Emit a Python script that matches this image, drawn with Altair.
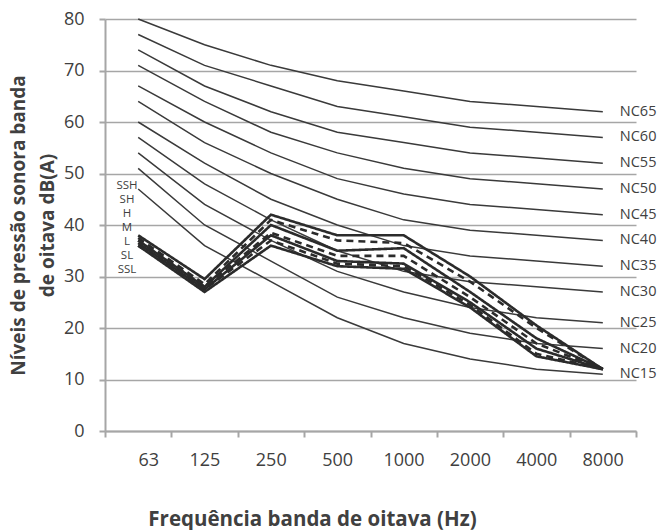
import altair as alt
import pandas as pd
import json

# ---- data ----
freqs = ["63", "125", "250", "500", "1000", "2000", "4000", "8000"]

nc_names = ["NC15", "NC20", "NC25", "NC30", "NC35", "NC40", "NC45", "NC50", "NC55", "NC60", "NC65"]
nc15 = [47, 36, 29, 22, 17, 14, 12, 11]
nc20 = [51, 40, 33, 26, 22, 19, 17, 16]
nc25 = [54, 44, 37, 31, 27, 24, 22, 21]
nc30 = [57, 48, 41, 35, 31, 29, 28, 27]
nc35 = [60, 52, 45, 40, 36, 34, 33, 32]
nc40 = [64, 56, 50, 45, 41, 39, 38, 37]
nc45 = [67, 60, 54, 49, 46, 44, 43, 42]
nc50 = [71, 64, 58, 54, 51, 49, 48, 47]
nc55 = [74, 67, 62, 58, 56, 54, 53, 52]
nc60 = [77, 71, 67, 63, 61, 59, 58, 57]
nc65 = [80, 75, 71, 68, 66, 64, 63, 62]
nc_values = [nc15, nc20, nc25, nc30, nc35, nc40, nc45, nc50, nc55, nc60, nc65]

series_names = ["SSH", "SH", "H", "M", "L", "SL", "SSL"]
ssh = [38.0, 29.5, 42.0, 38.0, 38.0, 30.0, 20.5, 12.0]
sh = [37.5, 28.5, 41.0, 37.0, 36.5, 29.0, 20.0, 12.0]
h = [37.0, 28.0, 40.0, 35.0, 35.5, 27.0, 18.0, 12.0]
m = [37.0, 28.0, 38.5, 34.0, 34.0, 26.0, 17.0, 12.0]
l = [36.5, 27.5, 38.0, 33.0, 32.5, 25.0, 16.0, 12.0]
sl = [36.0, 27.5, 37.0, 32.5, 32.0, 24.5, 15.0, 12.0]
ssl = [36.0, 27.0, 36.0, 32.0, 31.5, 24.0, 14.5, 12.0]
series_values = [ssh, sh, h, m, l, sl, ssl]

y_ticks = [0, 10, 20, 30, 40, 50, 60, 70, 80]

# ---- tables ----
nc_rows = []
for name, vals in zip(nc_names, nc_values):
    for i, (f, v) in enumerate(zip(freqs, vals)):
        nc_rows.append({"curve": name, "freq": f, "pos": i + 0.5, "value": v})
nc_df = pd.DataFrame(nc_rows)
nc_end = nc_df[nc_df["freq"] == freqs[-1]]

s_rows = []
for name, vals in zip(series_names, series_values):
    for i, (f, v) in enumerate(zip(freqs, vals)):
        s_rows.append({"series": name, "freq": f, "pos": i + 0.5, "value": v})
s_df = pd.DataFrame(s_rows)

FONT = "Open Sans"
TXT = "#404040"
GRID = "#a6a6a6"

label_expr = "datum.value < %d ? %s[datum.value] : ''" % (len(freqs), json.dumps(freqs))

x_enc = alt.X(
    "pos:Q",
    scale=alt.Scale(domain=[0, len(freqs)], nice=False, zero=False),
    axis=alt.Axis(
        values=list(range(len(freqs) + 1)),
        labelExpr=label_expr,
        labelOffset=33,
        title="Frequência banda de oitava (Hz)",
        grid=False,
        domainColor=GRID,
        domainWidth=2,
        tickColor=GRID,
        tickWidth=2,
        tickSize=6,
        labelPadding=14,
        labelFontSize=18,
        labelColor=TXT,
        labelFont=FONT,
        titleFont=FONT,
        titleFontSize=20.5,
        titleFontWeight="bold",
        titleColor=TXT,
        titlePadding=40,
        titleX=207,
        titleAlign="center",
    ),
)

y_enc = alt.Y(
    "value:Q",
    scale=alt.Scale(domain=[0, 80], nice=False),
    axis=alt.Axis(
        values=y_ticks,
        title=["Níveis de pressão sonora banda", "de oitava dB(A)"],
        grid=True,
        gridColor=GRID,
        gridWidth=1.6,
        domainColor=GRID,
        domainWidth=2,
        tickColor=GRID,
        tickWidth=2,
        tickSize=6,
        labelPadding=15,
        labelFontSize=18,
        labelColor=TXT,
        labelFont=FONT,
        titleFont=FONT,
        titleFontSize=19,
        titleFontWeight="bold",
        titleColor=TXT,
        titlePadding=6,
        titleLineHeight=29,
    ),
)

nc_lines = alt.Chart(nc_df).mark_line(color="#3a3a3a", strokeWidth=1.5).encode(
    x=x_enc, y=y_enc, detail="curve:N", order="pos:Q"
)

nc_labels = alt.Chart(nc_end).mark_text(
    align="left", baseline="middle", dx=17, fontSize=14.5, font=FONT, color=TXT
).encode(x="pos:Q", y="value:Q", text="curve:N")

dash_range = [[1, 0] if i % 2 == 0 else [7, 5] for i in range(len(series_names))]
s_lines = alt.Chart(s_df).mark_line(color="#2b2b2b", strokeWidth=2.6).encode(
    x="pos:Q",
    y="value:Q",
    strokeDash=alt.StrokeDash(
        "series:N",
        scale=alt.Scale(domain=series_names, range=dash_range),
        legend=None,
    ),
    order="pos:Q",
)

legend_text = alt.Chart(pd.DataFrame({"t": ["\n".join(series_names)]})).mark_text(
    align="center", baseline="top", lineBreak="\n", lineHeight=14,
    fontSize=11.5, font=FONT, color=TXT
).encode(x=alt.value(22), y=alt.value(161), text="t:N")

chart = (
    alt.layer(nc_lines, nc_labels, s_lines, legend_text)
    .properties(
        width=531,
        height=412,
        autosize=alt.AutoSizeParams(type="none"),
        padding={"left": 105, "top": 19, "right": 21, "bottom": 99},
        background="white",
    )
    .configure_view(stroke=None)
)

chart.save("out.html", embed_options={"renderer": "svg", "actions": False})
